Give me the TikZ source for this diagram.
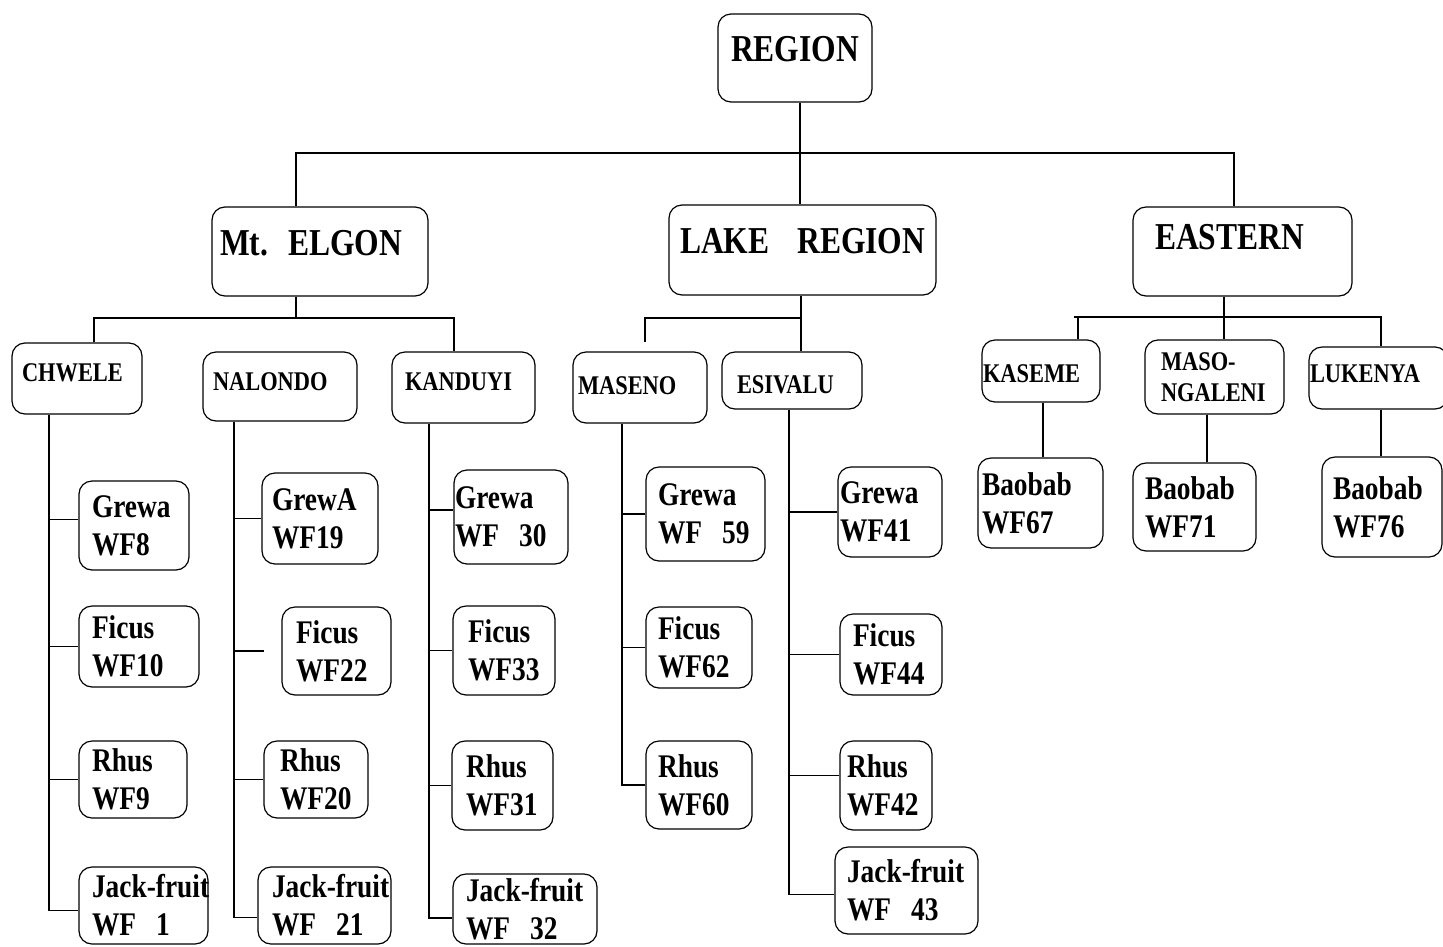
\documentclass[tikz,border=0pt]{standalone}
\usepackage{fontspec}
\newfontfamily\chartfont{Liberation Serif}[FakeStretch=0.83]
\newcommand\topfont{\chartfont\bfseries\fontsize{38}{44}\selectfont}
\newcommand\headfont{\chartfont\bfseries\fontsize{38}{44}\selectfont}
\newcommand\sitefont{\chartfont\bfseries\fontsize{27}{31}\selectfont}
\newcommand\treefont{\chartfont\bfseries\fontsize{33}{38}\selectfont}
\newcommand\gap[1]{\mbox{#1}}
\hyphenpenalty=10000
\exhyphenpenalty=10000

\tikzset{
  box/.style={draw, line width=1.2pt, rounded corners=13pt, align=left, inner ysep=0pt},
  head/.style={box, font=\headfont, text height=25pt, text depth=17pt},
  site/.style={box, font=\sitefont, text height=18pt, text depth=10pt},
  tree/.style={box, font=\treefont},
  link/.style={line width=1.2pt},
}

\begin{document}
\begin{tikzpicture}[x=1pt, y=-1pt]
  \useasboundingbox (0,0) rectangle (1443,946);

    \node[box, font=\topfont, text height=25pt, text depth=18pt, align=center,
    minimum width=154pt, minimum height=88pt] (region) at (795,58) {REGION};

    \node[head, text width=200pt, inner xsep=8pt, minimum height=89pt]
    (elgon) at (320,251.5) {\gap{Mt.\hspace{20pt}ELGON}};
    \node[head, text width=245pt, inner xsep=11pt, minimum height=90pt,
    text depth=18pt] (lake) at (802.5,250) {\gap{LAKE\hspace{28pt}REGION}};
    \node[head, text width=175pt, inner xsep=22pt, minimum height=89pt,
    text depth=29pt] (eastern) at (1242.5,251.5) {EASTERN};

    \node[site, text width=110pt, inner xsep=10pt, minimum height=71pt,
    text depth=12pt] (chwele) at (77,378.5) {CHWELE};
    \node[site, text width=134pt, inner xsep=10pt, minimum height=69pt]
    (nalondo) at (280,386.5) {NALONDO};
    \node[site, text width=117pt, inner xsep=13pt, minimum height=71pt,
    text depth=12pt] (kanduyi) at (463.5,387.5) {KANDUYI};
    \node[site, text width=124pt, inner xsep=5pt, minimum height=71pt,
    text depth=5pt] (maseno) at (640,387.5) {MASENO};
    \node[site, text width=110pt, inner xsep=15pt, minimum height=57pt,
    text height=26pt, text depth=0pt] (esivalu) at (792,380.5) {ESIVALU};
    \node[site, text width=116pt, inner xsep=1pt, minimum height=62pt,
    text height=22pt, text depth=0pt] (kaseme) at (1041,371) {KASEME};
    \node[site, text width=107pt, inner xsep=16pt, minimum height=74pt,
    text depth=32pt] (masongaleni) at (1214.5,377) {MASO-\\NGALENI};
    \node[site, text width=137pt, inner xsep=1pt, minimum height=62pt]
    (lukenya) at (1378.5,378) {LUKENYA};

    % Chwele
    \node[tree, text width=84pt, inner xsep=13pt, minimum height=89pt]
    (grewa8) at (134,525.5) {Grewa\\WF8};
    \node[tree, text width=94pt, inner xsep=13pt, minimum height=81pt]
    (ficus10) at (139,646.5) {Ficus\\WF10};
    \node[tree, text width=82pt, inner xsep=13pt, minimum height=77pt]
    (rhus9) at (133,779.5) {Rhus\\WF9};
    \node[tree, text width=103pt, inner xsep=13pt, minimum height=77pt]
    (jack1) at (143.5,905.5) {Jack-fruit\\\gap{WF\hspace{20pt}1}};

    % Nalondo
    \node[tree, text width=96pt, inner xsep=10pt, minimum height=91pt]
    (grewa19) at (320,518.5) {GrewA\\WF19};
    \node[tree, text width=81pt, inner xsep=14pt, minimum height=88pt]
    (ficus22) at (336.5,651) {Ficus\\WF22};
    \node[tree, text width=72pt, inner xsep=16pt, minimum height=77pt]
    (rhus20) at (316,779.5) {Rhus\\WF20};
    \node[tree, text width=105pt, inner xsep=14pt, minimum height=77pt]
    (jack21) at (324.5,905.5) {Jack-fruit\\\gap{WF\hspace{20pt}21}};

    % Kanduyi
    \node[tree, text width=112pt, inner xsep=1pt, minimum height=94pt]
    (grewa30) at (511,517) {Grewa\\\gap{WF\hspace{20pt}30}};
    \node[tree, text width=72pt, inner xsep=15pt, minimum height=89pt]
    (ficus33) at (504,650.5) {Ficus\\WF33};
    \node[tree, text width=73pt, inner xsep=14pt, minimum height=89pt]
    (rhus31) at (502.5,785.5) {Rhus\\WF31};
    \node[tree, text width=118pt, inner xsep=13pt, minimum height=70pt]
    (jack32) at (525,909) {Jack-fruit\\\gap{WF\hspace{20pt}32}};

    % Maseno
    \node[tree, text width=95pt, inner xsep=12pt, minimum height=94pt]
    (grewa59) at (705.5,514) {Grewa\\\gap{WF\hspace{20pt}59}};
    \node[tree, text width=82pt, inner xsep=12pt, minimum height=81pt]
    (ficus62) at (699,647.5) {Ficus\\WF62};
    \node[tree, text width=82pt, inner xsep=12pt, minimum height=88pt]
    (rhus60) at (699,785) {Rhus\\WF60};

    % Esivalu
    \node[tree, text width=100pt, inner xsep=2pt, minimum height=90pt]
    (grewa41) at (890,512) {Grewa\\WF41};
    \node[tree, text width=76pt, inner xsep=13pt, minimum height=81pt]
    (ficus44) at (891,654.5) {Ficus\\WF44};
    \node[tree, text width=78pt, inner xsep=7pt, minimum height=89pt]
    (rhus42) at (886,785.5) {Rhus\\WF42};
    \node[tree, text width=119pt, inner xsep=12pt, minimum height=87pt]
    (jack43) at (906.5,890.5) {Jack-fruit\\\gap{WF\hspace{20pt}43}};

    % Eastern
    \node[tree, text width=117pt, inner xsep=4pt, minimum height=90pt]
    (baobab67) at (1040.5,503) {Baobab\\WF67};
    \node[tree, text width=99pt, inner xsep=12pt, minimum height=88pt]
    (baobab71) at (1194.5,507) {Baobab\\WF71};
    \node[tree, text width=98pt, inner xsep=11pt, minimum height=100pt]
    (baobab76) at (1382,507) {Baobab\\WF76};

    % top level
    \coordinate (top west) at (296,153);
    \coordinate (top east) at (1234,153);
    \draw[link] (region.south -| 800,0) -- (lake.north -| 800,0);
    \draw[link] (elgon.north -| top west) -- (top west) -- (top east)
    -- (eastern.north -| top east);

    \coordinate (elgon west) at (94,318);
    \coordinate (elgon east) at (454,318);
    \draw[link] (elgon.south -| top west) -- (top west |- elgon west);
    \draw[link] (chwele.north -| elgon west) -- (elgon west) -- (elgon east)
    -- (kanduyi.north -| elgon east);

    \coordinate (lake west) at (645,318);
    \coordinate (lake mid) at (801,318);
    \coordinate (maseno stub) at (645,342);
    \draw[link] (lake.south -| lake mid) -- (esivalu.north -| lake mid);
    \draw[link] (lake mid) -- (lake west) -- (maseno stub);

    \coordinate (east west) at (1074,317);
    \coordinate (east east) at (1381,317);
    \coordinate (kaseme top) at (1078,317);
    \draw[link] (eastern.south -| 1224,0) -- (masongaleni.north -| 1224,0);
    \draw[link] (east west) -- (east east) -- (lukenya.north -| east east);
    \draw[link] (kaseme.north -| kaseme top) -- (kaseme top);
    \draw[link] (kaseme.south -| 1043,0) -- (baobab67.north -| 1043,0);
    \draw[link] (masongaleni.south -| 1207,0) -- (baobab71.north -| 1207,0);
    \draw[link] (lukenya.south -| 1381,0) -- (baobab76.north -| 1381,0);

    % columns
    \draw[link] (chwele.south -| 49,0) |- ([yshift=-5pt]jack1.west);
    \draw[link] (49,0 |- grewa8.west) ++(0,-6) -- ([yshift=6pt]grewa8.west);
    \draw[link] (49,0 |- ficus10.west) -- (ficus10.west);
    \draw[link] (49,0 |- rhus9.west) -- (rhus9.west);

    \coordinate (ficus22 stub) at (264,651);
    \draw[link] (nalondo.south -| 234,0) |- ([yshift=-12pt]jack21.west);
    \draw[link] (234,0 |- grewa19.west) -- (grewa19.west);
    \draw[link] (234,0 |- ficus22.west) -- (ficus22 stub);
    \draw[link] (234,0 |- rhus20.west) -- (rhus20.west);

    \draw[link] (kanduyi.south -| 429,0) |- ([yshift=-9pt]jack32.west);
    \draw[link] (429,0 |- grewa30.west) ++(0,-7) -- ([yshift=7pt]grewa30.west);
    \draw[link] (429,0 |- ficus33.west) -- (ficus33.west);
    \draw[link] (429,0 |- rhus31.west) -- (rhus31.west);

    \draw[link] (maseno.south -| 622,0) |- (rhus60.west);
    \draw[link] (622,0 |- grewa59.west) -- (grewa59.west);
    \draw[link] (622,0 |- ficus62.west) -- (ficus62.west);

    \draw[link] (esivalu.south -| 789,0) |- ([yshift=-4pt]jack43.west);
    \draw[link] (789,0 |- grewa41.west) -- (grewa41.west);
    \draw[link] (789,0 |- ficus44.west) -- (ficus44.west);
    \draw[link] (789,0 |- rhus42.west) ++(0,-10) -- ([yshift=10pt]rhus42.west);

  \end{tikzpicture}
\end{document}
